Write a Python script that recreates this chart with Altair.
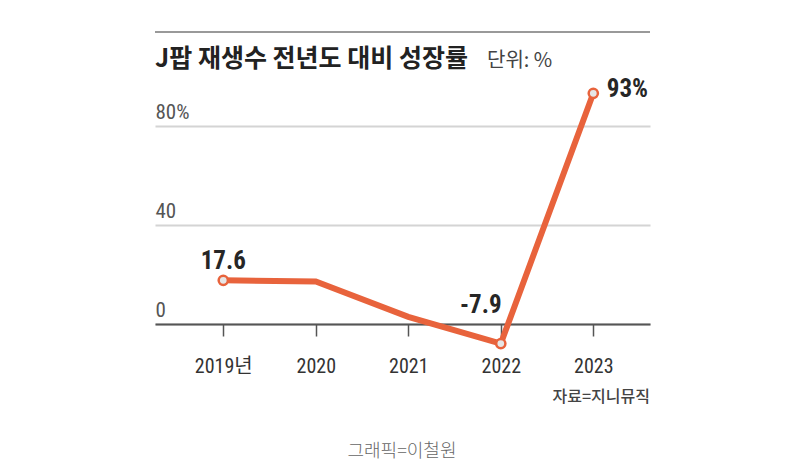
import altair as alt
import pandas as pd

# ---- data ----
years = [2019, 2020, 2021, 2022, 2023]
growth = [17.6, 17.1, 2.9, -7.9, 93.0]
labeled_years = [2019, 2022, 2023]
label_texts = ["17.6", "-7.9", "93%"]
y_ticks = [0, 40, 80]

title_text = "J팝 재생수 전년도 대비 성장률"
unit_text = "단위: %"
source_text = "자료=지니뮤직"
credit_text = "그래픽=이철원"

df = pd.DataFrame({"year": years, "growth": growth})
lab = pd.DataFrame({
    "year": labeled_years,
    "growth": [growth[years.index(y)] for y in labeled_years],
    "label": label_texts,
})

W, H = 495, 322
ORANGE = "#E8633C"
NARROW = "Liberation Sans Narrow, Roboto Condensed, Roboto, Noto Sans CJK KR, sans-serif"
KR = "Noto Sans CJK KR"

x = alt.X(
    "year:Q",
    scale=alt.Scale(domain=[2018.262, 2023.613], nice=False, zero=False),
    axis=alt.Axis(
        values=years,
        labelExpr="datum.value == 2019 ? '2019년' : '' + datum.value",
        offset=-30, domainColor="#555", domainWidth=2,
        tickColor="#555", tickWidth=1.5, tickSize=12,
        labelPadding=36, labelBaseline="alphabetic",
        labelFont=NARROW, labelFontSize=20, labelColor="#333",
        grid=False, title=None,
    ),
)
y = alt.Y(
    "growth:Q",
    scale=alt.Scale(domain=[-12.1, 117.7], nice=False, zero=False),
    axis=alt.Axis(
        values=y_ticks,
        labelExpr="datum.value == 80 ? '80%' : '' + datum.value",
        domain=False, ticks=False, tickSize=0,
        labelAlign="left", labelPadding=0, labelBaseline="alphabetic",
        labelOffset=-7.5, labelFont=NARROW, labelFontSize=21, labelColor="#555",
        grid=True, gridColor="#d4d4d4", gridWidth=2, title=None,
    ),
)

base = alt.Chart(df)
line = base.mark_line(color=ORANGE, strokeWidth=6).encode(x=x, y=y)
pts = alt.Chart(lab).mark_point(
    filled=True, fill="#e6e6e6", stroke=ORANGE, strokeWidth=2.5, size=85, opacity=1
).encode(x="year:Q", y="growth:Q")

def val_label(yr, **kw):
    return alt.Chart(lab).transform_filter(alt.datum.year == yr).mark_text(
        font=NARROW, fontSize=25, fontWeight="bold", color="#262626",
        baseline="alphabetic", **kw
    ).encode(x="year:Q", y="growth:Q", text="label:N")

l1 = val_label(2019, align="center", dx=0, dy=-11.5)
l2 = val_label(2022, align="center", dx=-20, dy=-30.5)
l3 = val_label(2023, align="left", dx=13.5, dy=3.5)

top_rule = base.mark_rule(color="#999", strokeWidth=2).encode(
    x=alt.value(0), x2=alt.value(W), y=alt.value(0)
)

def note(text, **kw):
    return alt.Chart(pd.DataFrame({"t": [text]})).mark_text(**kw).encode(text="t:N")

title = note(title_text, font=KR, fontSize=25, fontWeight="bold", color="#222",
             align="left", baseline="alphabetic").encode(x=alt.value(0), y=alt.value(35))
unit = note(unit_text, font=KR, fontSize=20, color="#444",
            align="left", baseline="alphabetic").encode(x=alt.value(332), y=alt.value(35))
source = note(source_text, font=KR, fontSize=16, fontWeight=500, color="#444",
              align="right", baseline="alphabetic").encode(x=alt.value(W), y=alt.value(370))
credit = note(credit_text, font=KR, fontSize=18, fontWeight=300, color="#666",
              align="center", baseline="alphabetic").encode(x=alt.value(247), y=alt.value(425))

chart = alt.layer(
    top_rule, line, pts, l1, l2, l3, title, unit, source, credit
).properties(
    width=W, height=H,
    autosize=alt.AutoSizeParams(type="none"),
    padding={"left": 147, "top": 24, "right": 140, "bottom": 110},
    background="white",
).configure_view(stroke=None)

chart.save("out.html", embed_options={"renderer": "svg", "actions": False})
